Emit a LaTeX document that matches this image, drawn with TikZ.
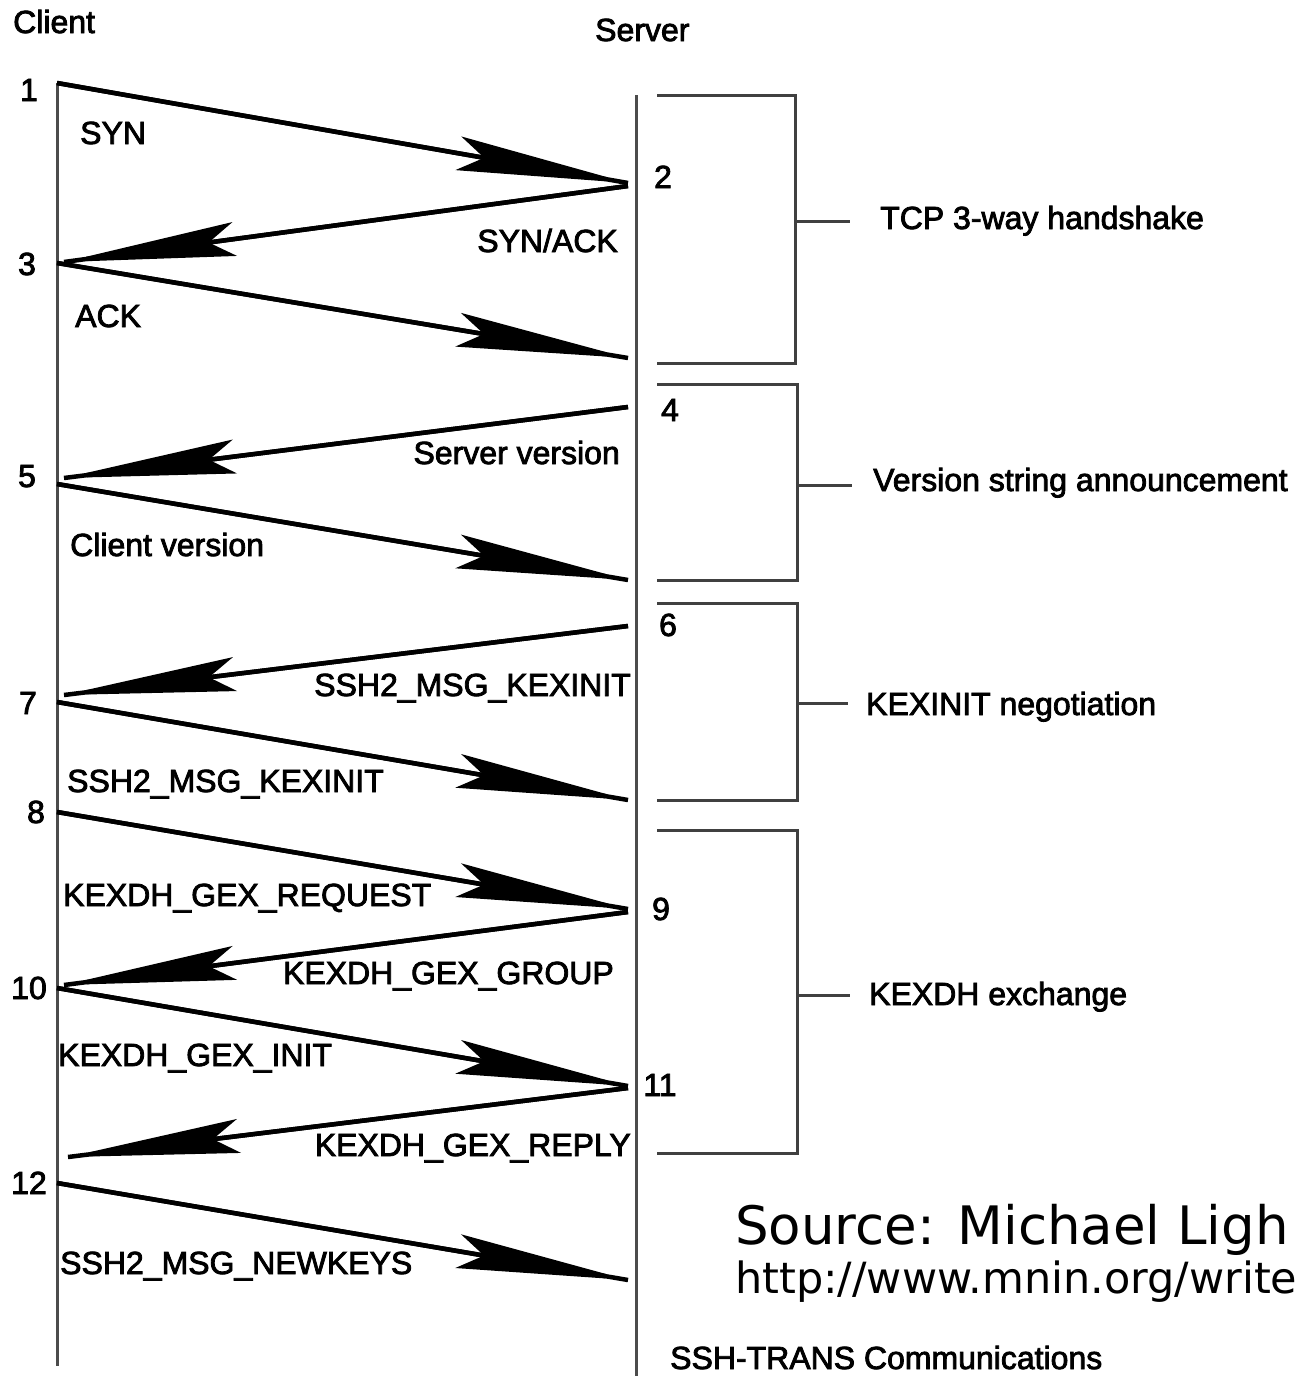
\documentclass[tikz,border=0pt]{standalone}
\usepackage{fontspec}
\setmainfont{Liberation Sans}
\newfontfamily\lblfont{Liberation Sans}[FakeBold=2.5]
\newfontfamily\srcfont{DejaVu Sans}
\usetikzlibrary{arrows.meta}
\begin{document}
\begin{tikzpicture}[x=1pt,y=-1pt,
  lbl/.style={font=\lblfont\fontsize{32}{36}\selectfont, inner sep=0pt},
  msg/.style={line width=4.5pt, -{Stealth[length=172pt,width=34pt,inset=26pt]},
              preaction={draw, line width=4.5pt, -}},
  life/.style={line width=3pt, draw=black!70},
  brk/.style={line width=3pt, draw=black!75}]
\useasboundingbox (0,0) rectangle (1297,1376);
\clip (0,0) rectangle (1297,1376);
\fill[white] (0,0) rectangle (1297,1376);

% lifelines
\coordinate (ctop) at (57,83);
\coordinate (cbot) at (57,1366);
\coordinate (stop) at (636,95);
\coordinate (sbot) at (636,1376);
\draw[life] (ctop) -- (cbot);
\draw[life] (stop) -- (sbot);

% headings
\node[lbl, anchor=base west] (client) at (13,33) {Client};
\node[lbl, anchor=base west] (server) at (595,41) {Server};

% step numbers
\node[lbl, anchor=base] (n1) at (29,101) {1};
\node[lbl, anchor=base] (n3) at (27,275) {3};
\node[lbl, anchor=base] (n5) at (27,487) {5};
\node[lbl, anchor=base] (n7) at (28,714) {7};
\node[lbl, anchor=base] (n8) at (36,823) {8};
\node[lbl, anchor=base] (n10) at (29,999) {10};
\node[lbl, anchor=base] (n12) at (29,1194) {12};
\node[lbl, anchor=base] (n2) at (663,188) {2};
\node[lbl, anchor=base] (n4) at (670,421) {4};
\node[lbl, anchor=base] (n6) at (668,636) {6};
\node[lbl, anchor=base] (n9) at (661,920) {9};
\node[lbl, anchor=base] (n11) at (660,1096) {11};

% event points
\coordinate (c1) at (57,83);
\coordinate (s2) at (628,183);
\coordinate (s2o) at (628,186);
\coordinate (c3) at (64,262);
\coordinate (c3o) at (57,263);
\coordinate (s3) at (628,358);
\coordinate (s4o) at (628,407);
\coordinate (c5) at (64,478);
\coordinate (c5o) at (57,484);
\coordinate (s5) at (628,580);
\coordinate (s6o) at (628,626);
\coordinate (c7) at (64,695);
\coordinate (c7o) at (57,702);
\coordinate (s7) at (628,800);
\coordinate (c8o) at (57,812);
\coordinate (s9) at (628,909);
\coordinate (s9o) at (628,912);
\coordinate (c10) at (64,985);
\coordinate (c10o) at (57,988);
\coordinate (s11) at (628,1086);
\coordinate (s11o) at (628,1088);
\coordinate (c12) at (68,1157);
\coordinate (c12o) at (57,1183);
\coordinate (s13) at (628,1280);

% messages
\draw[msg] (c1) -- (s2);
\draw[msg] (s2o) -- (c3);
\draw[msg] (c3o) -- (s3);
\draw[msg] (s4o) -- (c5);
\draw[msg] (c5o) -- (s5);
\draw[msg] (s6o) -- (c7);
\draw[msg] (c7o) -- (s7);
\draw[msg] (c8o) -- (s9);
\draw[msg] (s9o) -- (c10);
\draw[msg] (c10o) -- (s11);
\draw[msg] (s11o) -- (c12);
\draw[msg] (c12o) -- (s13);

% message labels
\node[lbl, anchor=base west] (lsyn) at (80,144) {SYN};
\node[lbl, anchor=base east] (lsynack) at (618,252) {SYN/ACK};
\node[lbl, anchor=base west] (lack) at (75,327) {ACK};
\node[lbl, anchor=base east] (lsv) at (620,464) {Server version};
\node[lbl, anchor=base west] (lcv) at (70,556) {Client version};
\node[lbl, anchor=base east] (lk1) at (631,696) {SSH2\_MSG\_KEXINIT};
\node[lbl, anchor=base west] (lk2) at (67,792) {SSH2\_MSG\_KEXINIT};
\node[lbl, anchor=base west] (lreq) at (63,906) {KEXDH\_GEX\_REQUEST};
\node[lbl, anchor=base east] (lgrp) at (614,984) {KEXDH\_GEX\_GROUP};
\node[lbl, anchor=base west] (linit) at (58,1066) {KEXDH\_GEX\_INIT};
\node[lbl, anchor=base east] (lrep) at (631,1156) {KEXDH\_GEX\_REPLY};
\node[lbl, anchor=base west] (lnk) at (60,1274) {SSH2\_MSG\_NEWKEYS};

% phase brackets
\draw[brk] (657,95) -- (795,95) -- (795,363) -- (657,363);
\draw[brk] (795,221) -- (850,221);
\draw[brk] (657,384) -- (797,384) -- (797,580) -- (657,580);
\draw[brk] (797,485) -- (852,485);
\draw[brk] (657,603) -- (797,603) -- (797,800) -- (657,800);
\draw[brk] (797,703) -- (848,703);
\draw[brk] (657,830) -- (797,830) -- (797,1153) -- (657,1153);
\draw[brk] (797,995) -- (850,995);

\node[lbl, anchor=base west] (p1) at (880,229) {TCP 3-way handshake};
\node[lbl, anchor=base west] (p2) at (873,491) {Version string announcement};
\node[lbl, anchor=base west] (p3) at (866,715) {KEXINIT negotiation};
\node[lbl, anchor=base west] (p4) at (869,1005) {KEXDH exchange};

\node[lbl, anchor=base west] (title) at (670,1369) {SSH-TRANS Communications};

% source
\node[anchor=base west, inner sep=0pt, font=\srcfont\fontsize{53}{60}\selectfont] (src) at (735,1244) {Source: Michael Ligh};
\node[anchor=base west, inner sep=0pt, font=\srcfont\fontsize{43}{50}\selectfont] (url) at (735,1293) {http://www.mnin.org/write};
\end{tikzpicture}
\end{document}
